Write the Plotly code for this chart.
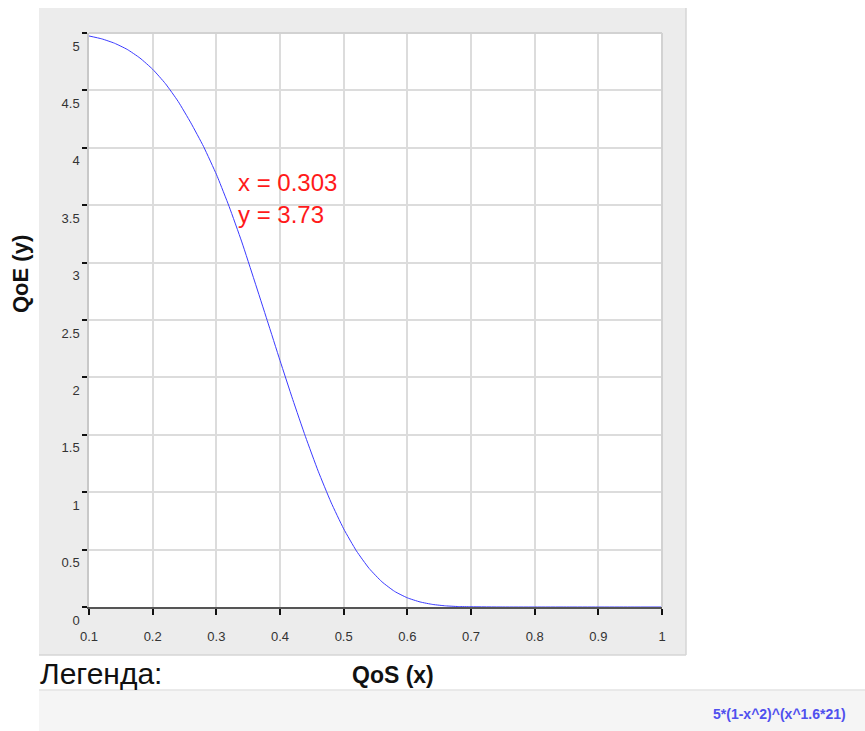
import plotly.graph_objects as go

# QoS -> QoE curve samples
qos = [0.10, 0.12, 0.14, 0.16, 0.18, 0.20, 0.22, 0.24, 0.26, 0.28, 0.30, 0.303,
       0.32, 0.34, 0.36, 0.38, 0.40, 0.42, 0.44, 0.46, 0.48, 0.50, 0.52, 0.54,
       0.56, 0.58, 0.60, 0.62, 0.64, 0.66, 0.68, 0.70, 0.75, 0.80, 0.85, 0.90,
       0.95, 1.00]
qoe = [4.974, 4.949, 4.911, 4.857, 4.782, 4.684, 4.559, 4.404, 4.217, 4.01, 3.77, 3.73,
       3.49, 3.18, 2.84, 2.495, 2.147, 1.808, 1.484, 1.183, 0.914, 0.681, 0.489, 0.336,
       0.220, 0.136, 0.080, 0.044, 0.022, 0.010, 0.004, 0.002, 0.0001, 0.0, 0.0, 0.0,
       0.0, 0.0]

# highlighted point readout
hover_x = 0.303
hover_y = 3.73

x_ticks = [0.1, 0.2, 0.3, 0.4, 0.5, 0.6, 0.7, 0.8, 0.9, 1]
x_tick_text = ["0.1", "0.2", "0.3", "0.4", "0.5", "0.6", "0.7", "0.8", "0.9", "1"]
y_ticks = [0, 0.5, 1, 1.5, 2, 2.5, 3, 3.5, 4, 4.5, 5]
y_tick_text = ["0", "0.5", "1", "1.5", "2", "2.5", "3", "3.5", "4", "4.5", "5"]

formula_label = "5*(1-x^2)^(x^1.6*21)"

W, H = 865, 731
L, R, T, B = 89, 662, 33, 607  # plot area in pixels
FONT = "Arial, Liberation Sans, sans-serif"


def px(x):
    return (x - L) / (R - L)


def py(y):
    return (B - y) / (B - T)


fig = go.Figure()
fig.add_trace(go.Scatter(
    x=qos, y=qoe, mode="lines",
    line=dict(color="#3b3bff", width=1, shape="spline", smoothing=0.5),
    showlegend=False, hoverinfo="x+y",
))

shapes = [
    # grey chart panel
    dict(type="rect", xref="paper", yref="paper", layer="below",
         x0=px(39), x1=px(686), y0=py(655), y1=py(8),
         fillcolor="#ececec", line=dict(width=0)),
    dict(type="line", xref="paper", yref="paper", layer="below",
         x0=px(686), x1=px(686), y0=py(655), y1=py(8),
         line=dict(color="#d6d6d6", width=1.5)),
    dict(type="line", xref="paper", yref="paper", layer="below",
         x0=px(39), x1=px(686), y0=py(655), y1=py(655),
         line=dict(color="#d6d6d6", width=1.5)),
    # white plotting area
    dict(type="rect", xref="paper", yref="paper", layer="below",
         x0=0, x1=1, y0=0, y1=1, fillcolor="white", line=dict(width=0)),
    # legend strip
    dict(type="rect", xref="paper", yref="paper", layer="below",
         x0=px(39), x1=px(866), y0=py(732), y1=py(690),
         fillcolor="#f5f5f5", line=dict(width=0)),
    dict(type="line", xref="paper", yref="paper", layer="below",
         x0=px(39), x1=px(866), y0=py(690), y1=py(690),
         line=dict(color="#e3e3e3", width=1.5)),
    # plot frame top / right
    dict(type="line", xref="paper", yref="paper", layer="above",
         x0=0, x1=1, y0=1, y1=1, line=dict(color="#d2d2d2", width=2)),
    dict(type="line", xref="paper", yref="paper", layer="above",
         x0=1, x1=1, y0=0, y1=1, line=dict(color="#d2d2d2", width=2)),
]

annotations = [
    dict(xref="paper", yref="paper", x=px(236), y=py(182), xanchor="left", yanchor="middle",
         text=f"x = {hover_x}", showarrow=False, font=dict(family=FONT, size=24, color="#ff1a1a")),
    dict(xref="paper", yref="paper", x=px(236), y=py(215), xanchor="left", yanchor="middle",
         text=f"y = {hover_y}", showarrow=False, font=dict(family=FONT, size=24, color="#ff1a1a")),
    dict(xref="paper", yref="paper", x=px(20), y=py(274), xanchor="center", yanchor="middle",
         text="<b>QoE (y)</b>", textangle=-90, showarrow=False,
         font=dict(family=FONT, size=22, color="#111111")),
    dict(xref="paper", yref="paper", x=px(393), y=py(675), xanchor="center", yanchor="middle",
         text="<b>QoS (x)</b>", showarrow=False, font=dict(family=FONT, size=23, color="#111111")),
    dict(xref="paper", yref="paper", x=px(38), y=py(673), xanchor="left", yanchor="middle",
         text="Легенда:", showarrow=False, font=dict(family=FONT, size=30, color="#111111")),
    dict(xref="paper", yref="paper", x=px(848), y=py(714), xanchor="right", yanchor="middle",
         text=f"<b>{formula_label}</b>", showarrow=False, font=dict(family=FONT, size=14, color="#5050ee")),
]

fig.update_layout(
    width=W, height=H,
    margin=dict(l=L, r=W - R, t=T, b=H - B, pad=0),
    paper_bgcolor="white", plot_bgcolor="white",
    shapes=shapes, annotations=annotations,
    font=dict(family=FONT, size=13, color="#333333"),
    xaxis=dict(
        range=[0.1, 1], tickvals=x_ticks, ticktext=x_tick_text,
        showgrid=True, gridcolor="#dcdcdc", gridwidth=1.5,
        zeroline=False, showline=True, linecolor="#555555", linewidth=1.5,
        ticks="outside", ticklen=6, tickcolor="#111111", tickwidth=2,
        ticklabelstandoff=11, tickfont=dict(size=13, color="#333333"),
    ),
    yaxis=dict(
        range=[0, 5], tickvals=y_ticks, ticktext=y_tick_text,
        showgrid=True, gridcolor="#dcdcdc", gridwidth=1.5,
        zeroline=False, showline=True, linecolor="#c8c8c8", linewidth=1.5,
        ticks="outside", ticklen=5, tickcolor="#111111", tickwidth=2,
        ticklabelshift=13, tickfont=dict(size=13, color="#333333"),
    ),
)

fig.write_html("out.html")
